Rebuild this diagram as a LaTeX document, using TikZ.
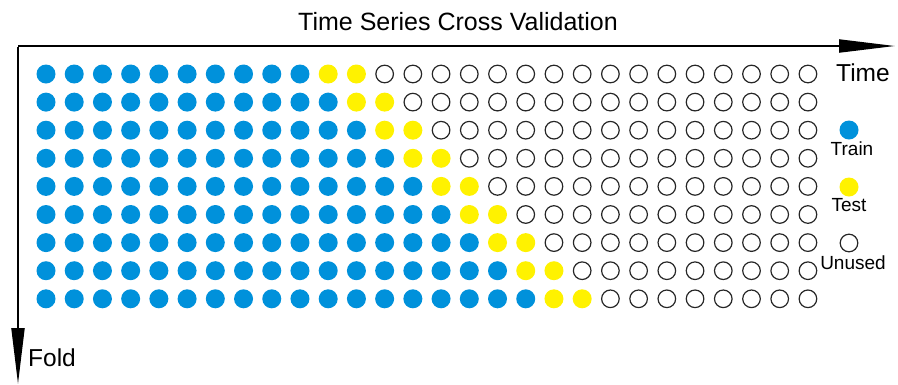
\documentclass[tikz,border=0pt]{standalone}
\usepackage{fontspec}
\setmainfont{Liberation Sans}
\usetikzlibrary{arrows.meta}
\definecolor{trainblue}{HTML}{0091DB}
\definecolor{testyellow}{HTML}{FFF200}
\begin{document}
\begin{tikzpicture}[x=1pt,y=-1pt,
  dot/.style={circle,inner sep=0pt,minimum size=19pt},
  train/.style={dot,fill=trainblue},
  test/.style={dot,fill=testyellow},
  unused/.style={dot,draw=black!85,line width=1.2pt,minimum size=17.6pt},
  lbl/.style={font=\fontsize{19}{21}\selectfont,inner sep=0pt},
  axis/.style={line width=2pt,-{Triangle[length=56pt,width=13pt]}}]
\useasboundingbox (0,0) rectangle (898,384);
\node[font=\fontsize{25}{28}\selectfont,inner sep=0pt] (title) at (458,22) {Time Series Cross Validation};
\coordinate (origin) at (18,46);
\coordinate (tend) at (895,46);
\coordinate (fend) at (18,384);
\draw[axis] (origin) -- (tend);
\draw[axis] ([yshift=-1pt]origin) -- (fend);
\node[font=\fontsize{24.5}{27}\selectfont,inner sep=0pt] (time) at (863,73) {Time};
\node[font=\fontsize{24.5}{27}\selectfont,inner sep=0pt,anchor=west] (fold) at (28,358) {Fold};
\foreach \r in {0,...,8}{
  \pgfmathtruncatemacro{\nb}{10+\r}
  \pgfmathtruncatemacro{\ny}{12+\r}
  \foreach \c in {1,...,28}{
    \ifnum\c>\ny
      \node[unused] (c-\r-\c) at ({46+(\c-1)*28.22},{74+\r*28.1}) {};
    \else\ifnum\c>\nb
      \node[test] (c-\r-\c) at ({46+(\c-1)*28.22},{74+\r*28.1}) {};
    \else
      \node[train] (c-\r-\c) at ({46+(\c-1)*28.22},{74+\r*28.1}) {};
    \fi\fi
  }
}
\node[train] (ltrain) at (849,130) {};
\node[lbl] (ttrain) at (852,149) {Train};
\node[test] (ltest) at (849,187) {};
\node[lbl] (ttest) at (849,205) {Test};
\node[unused] (lunused) at (849,243) {};
\node[lbl] (tunused) at (853,263) {Unused};
\end{tikzpicture}
\end{document}
